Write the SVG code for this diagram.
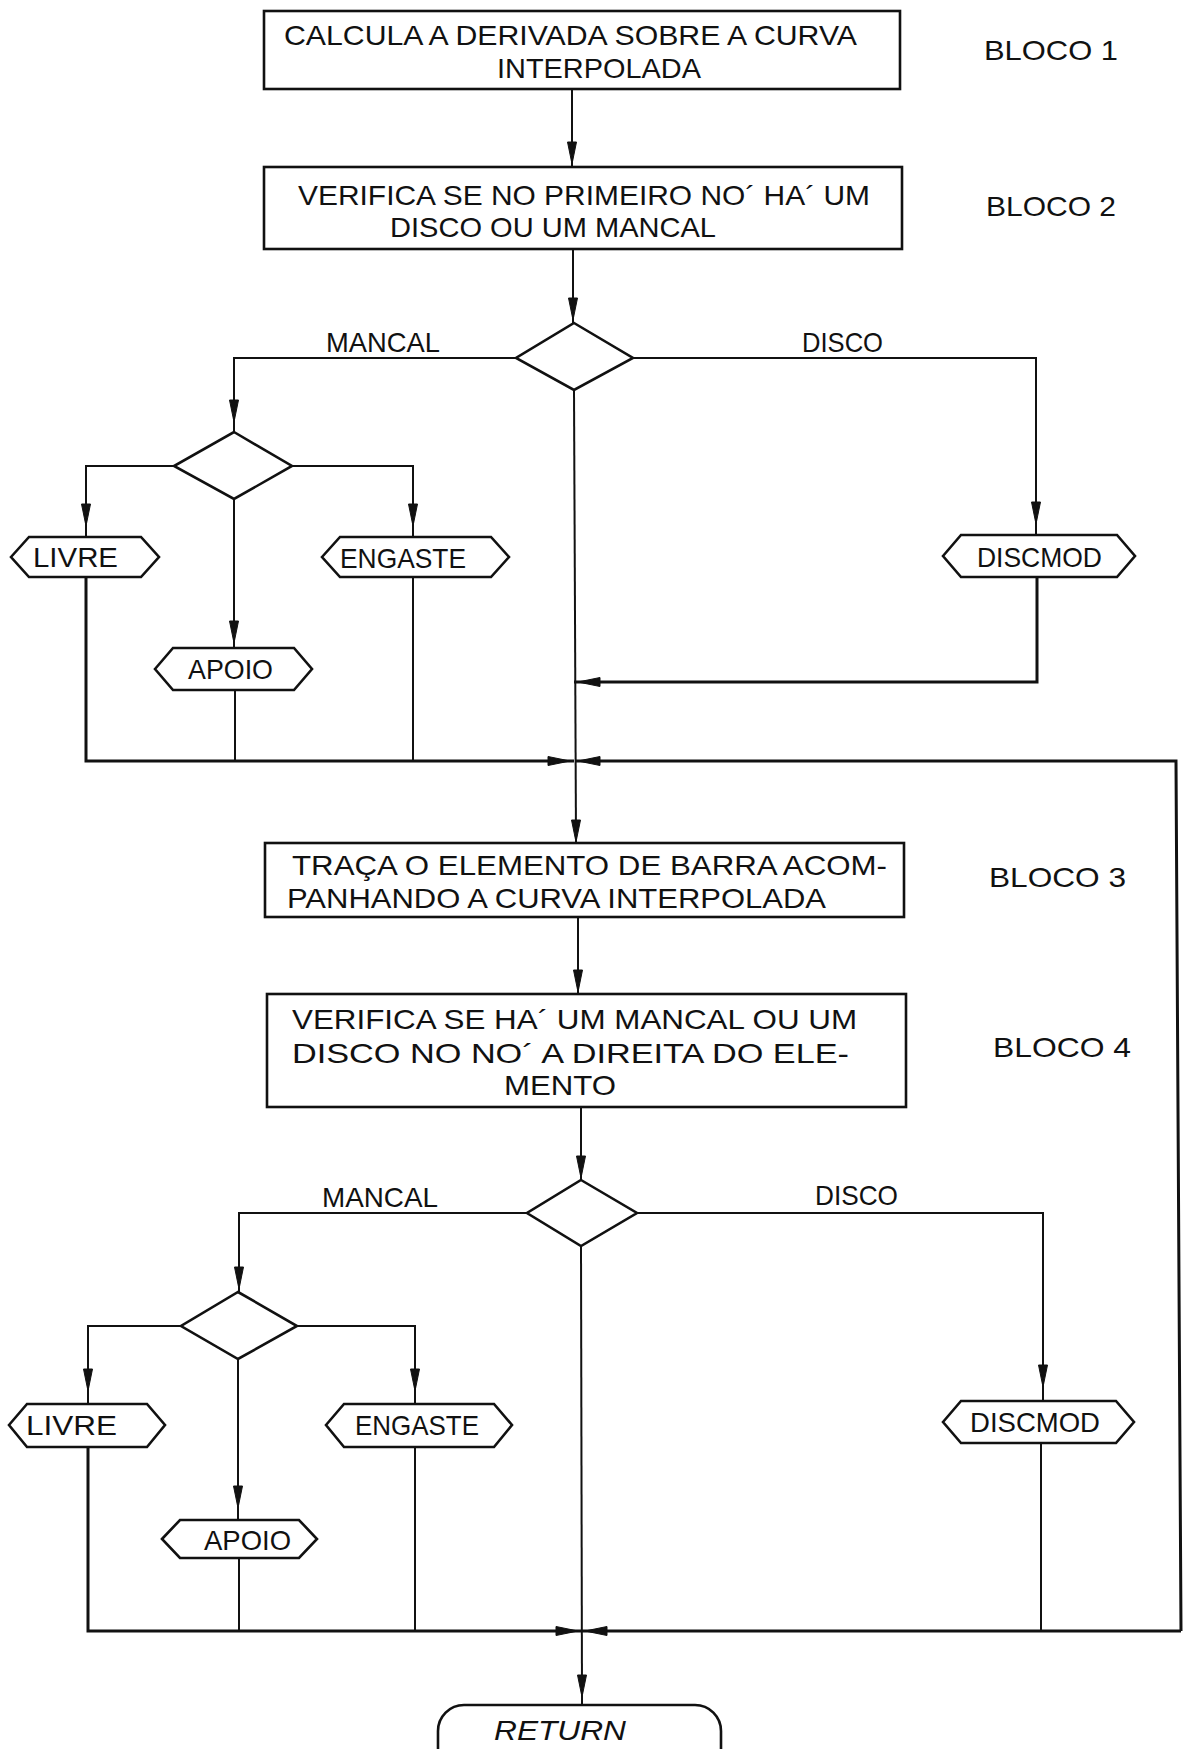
<svg xmlns="http://www.w3.org/2000/svg" xmlns:xlink="http://www.w3.org/1999/xlink" width="1183" height="1749" viewBox="0 0 1183 1749">
<style>
.bx{fill:#fff;stroke:#111;stroke-width:2.6}
.ln{fill:none;stroke:#111;stroke-width:2}
.lt{fill:none;stroke:#111;stroke-width:3}
.t{font-family:"Liberation Sans",Arial,sans-serif;font-size:28px;fill:#111}
.ti{font-family:"Liberation Sans",Arial,sans-serif;font-size:28px;font-style:italic;fill:#111}
.ah{fill:#111;stroke:#111;stroke-width:1}
</style>
<defs>
<path id="ah" d="M0,0 L-22,-4.5 L-22,4.5 Z"/>
</defs>
<rect width="1183" height="1749" fill="#fff"/>

<g id="connectors">
<path class="ln" d="M572,88 L572,167"/>
<path class="ln" d="M573,249 L573,323"/>
<path class="ln" d="M516,358 L234,358 L234,432"/>
<path class="ln" d="M633,358 L1036,358 L1036,535"/>
<path class="ln" d="M174,466 L86,466 L86,537"/>
<path class="ln" d="M292,466 L413,466 L413,537"/>
<path class="ln" d="M234,499 L234,648"/>
<path class="lt" d="M86,577 L86,761 L574,761"/>
<path class="ln" d="M235,690 L235,761"/>
<path class="ln" d="M413,577 L413,761"/>
<path class="lt" d="M1037,577 L1037,682 L574,682"/>
<path class="ln" d="M574,390 L576,843"/>
<path class="lt" d="M1181,1631 L1176,761 L576,761"/>
<path class="ln" d="M578,917 L578,994"/>
<path class="ln" d="M581,1107 L581,1180"/>
<path class="ln" d="M527,1213 L239,1213 L239,1292"/>
<path class="ln" d="M637,1213 L1043,1213 L1043,1401"/>
<path class="ln" d="M181,1326 L88,1326 L88,1404"/>
<path class="ln" d="M297,1326 L415,1326 L415,1404"/>
<path class="ln" d="M238,1359 L238,1520"/>
<path class="lt" d="M88,1447 L88,1631 L1181,1631"/>
<path class="ln" d="M239,1558 L239,1631"/>
<path class="ln" d="M415,1447 L415,1631"/>
<path class="ln" d="M1041,1443 L1041,1631"/>
<path class="ln" d="M581,1246 L582,1705"/>
<g class="ah">
<use xlink:href="#ah" transform="translate(572,164) rotate(90)"/>
<use xlink:href="#ah" transform="translate(573,320) rotate(90)"/>
<use xlink:href="#ah" transform="translate(234,422) rotate(90)"/>
<use xlink:href="#ah" transform="translate(1036,524) rotate(90)"/>
<use xlink:href="#ah" transform="translate(86,526) rotate(90)"/>
<use xlink:href="#ah" transform="translate(413,526) rotate(90)"/>
<use xlink:href="#ah" transform="translate(234,643) rotate(90)"/>
<use xlink:href="#ah" transform="translate(570,761)"/>
<use xlink:href="#ah" transform="translate(578,682) rotate(180)"/>
<use xlink:href="#ah" transform="translate(578,761) rotate(180)"/>
<use xlink:href="#ah" transform="translate(576,842) rotate(90)"/>
<use xlink:href="#ah" transform="translate(578,992) rotate(90)"/>
<use xlink:href="#ah" transform="translate(581,1178) rotate(90)"/>
<use xlink:href="#ah" transform="translate(239,1289) rotate(90)"/>
<use xlink:href="#ah" transform="translate(1043,1387) rotate(90)"/>
<use xlink:href="#ah" transform="translate(88,1391) rotate(90)"/>
<use xlink:href="#ah" transform="translate(415,1391) rotate(90)"/>
<use xlink:href="#ah" transform="translate(238,1508) rotate(90)"/>
<use xlink:href="#ah" transform="translate(578,1631)"/>
<use xlink:href="#ah" transform="translate(585,1631) rotate(180)"/>
<use xlink:href="#ah" transform="translate(582,1697) rotate(90)"/>
</g>
</g>

<g id="bloco1">
<rect class="bx" x="264" y="11" width="636" height="78"/>
<text class="t" x="284" y="45" textLength="573" lengthAdjust="spacingAndGlyphs">CALCULA A DERIVADA SOBRE A CURVA</text>
<text class="t" x="497" y="78" textLength="204" lengthAdjust="spacingAndGlyphs">INTERPOLADA</text>
</g>
<text id="label-bloco1" class="t" x="984" y="60" textLength="134" lengthAdjust="spacingAndGlyphs">BLOCO  1</text>

<g id="bloco2">
<rect class="bx" x="264" y="167" width="638" height="82"/>
<text class="t" x="298" y="205" textLength="572" lengthAdjust="spacingAndGlyphs">VERIFICA SE NO PRIMEIRO NO´ HA´ UM</text>
<text class="t" x="390" y="237" textLength="326" lengthAdjust="spacingAndGlyphs">DISCO OU UM MANCAL</text>
</g>
<text id="label-bloco2" class="t" x="986" y="216" textLength="130" lengthAdjust="spacingAndGlyphs">BLOCO 2</text>

<g id="decisao1">
<polygon class="bx" points="574,323 633,358 574,390 516,358"/>
</g>
<text class="t" x="326" y="352" textLength="114" lengthAdjust="spacingAndGlyphs">MANCAL</text>
<text class="t" x="802" y="352" textLength="81" lengthAdjust="spacingAndGlyphs">DISCO</text>

<g id="decisao2">
<polygon class="bx" points="234,432 292,466 234,499 174,466"/>
</g>

<g id="livre1">
<polygon class="bx" points="11,557 29,537 141,537 159,557 141,577 29,577"/>
<text class="t" x="33" y="567" textLength="85" lengthAdjust="spacingAndGlyphs">LIVRE</text>
</g>
<g id="engaste1">
<polygon class="bx" points="322,557 340,537 491,537 509,557 491,577 340,577"/>
<text class="t" x="340" y="568" textLength="126" lengthAdjust="spacingAndGlyphs">ENGASTE</text>
</g>
<g id="apoio1">
<polygon class="bx" points="155,669 173,648 294,648 312,669 294,690 173,690"/>
<text class="t" x="188" y="679" textLength="85" lengthAdjust="spacingAndGlyphs">APOIO</text>
</g>
<g id="discmod1">
<polygon class="bx" points="943,556 961,535 1117,535 1135,556 1117,577 961,577"/>
<text class="t" x="977" y="567" textLength="125" lengthAdjust="spacingAndGlyphs">DISCMOD</text>
</g>

<g id="bloco3">
<rect class="bx" x="265" y="843" width="639" height="74"/>
<text class="t" x="292" y="875" textLength="595" lengthAdjust="spacingAndGlyphs">TRAÇA O ELEMENTO DE BARRA ACOM-</text>
<text class="t" x="287" y="908" textLength="539" lengthAdjust="spacingAndGlyphs">PANHANDO A CURVA INTERPOLADA</text>
</g>
<text id="label-bloco3" class="t" x="989" y="887" textLength="137" lengthAdjust="spacingAndGlyphs">BLOCO 3</text>

<g id="bloco4">
<rect class="bx" x="267" y="994" width="639" height="113"/>
<text class="t" x="292" y="1029" textLength="565" lengthAdjust="spacingAndGlyphs">VERIFICA SE HA´ UM MANCAL OU UM</text>
<text class="t" x="292" y="1063" textLength="557" lengthAdjust="spacingAndGlyphs">DISCO NO NO´ A DIREITA DO ELE-</text>
<text class="t" x="504" y="1095" textLength="112" lengthAdjust="spacingAndGlyphs">MENTO</text>
</g>
<text id="label-bloco4" class="t" x="993" y="1057" textLength="138" lengthAdjust="spacingAndGlyphs">BLOCO 4</text>

<g id="decisao3">
<polygon class="bx" points="581,1180 637,1213 581,1246 527,1213"/>
</g>
<text class="t" x="322" y="1207" textLength="116" lengthAdjust="spacingAndGlyphs">MANCAL</text>
<text class="t" x="815" y="1205" textLength="83" lengthAdjust="spacingAndGlyphs">DISCO</text>

<g id="decisao4">
<polygon class="bx" points="238,1292 297,1326 238,1359 181,1326"/>
</g>

<g id="livre2">
<polygon class="bx" points="9,1425 27,1404 147,1404 165,1425 147,1447 27,1447"/>
<text class="t" x="26" y="1435" textLength="91" lengthAdjust="spacingAndGlyphs">LIVRE</text>
</g>
<g id="engaste2">
<polygon class="bx" points="326,1425 344,1404 494,1404 512,1425 494,1447 344,1447"/>
<text class="t" x="355" y="1435" textLength="124" lengthAdjust="spacingAndGlyphs">ENGASTE</text>
</g>
<g id="apoio2">
<polygon class="bx" points="162,1539 180,1520 299,1520 317,1539 299,1558 180,1558"/>
<text class="t" x="204" y="1550" textLength="87" lengthAdjust="spacingAndGlyphs">APOIO</text>
</g>
<g id="discmod2">
<polygon class="bx" points="943,1422 961,1401 1116,1401 1134,1422 1116,1443 961,1443"/>
<text class="t" x="970" y="1432" textLength="130" lengthAdjust="spacingAndGlyphs">DISCMOD</text>
</g>

<g id="return">
<rect class="bx" x="438" y="1705" width="283" height="80" rx="26" ry="26"/>
<text class="ti" x="494" y="1740" textLength="132" lengthAdjust="spacingAndGlyphs">RETURN</text>
</g>
</svg>
